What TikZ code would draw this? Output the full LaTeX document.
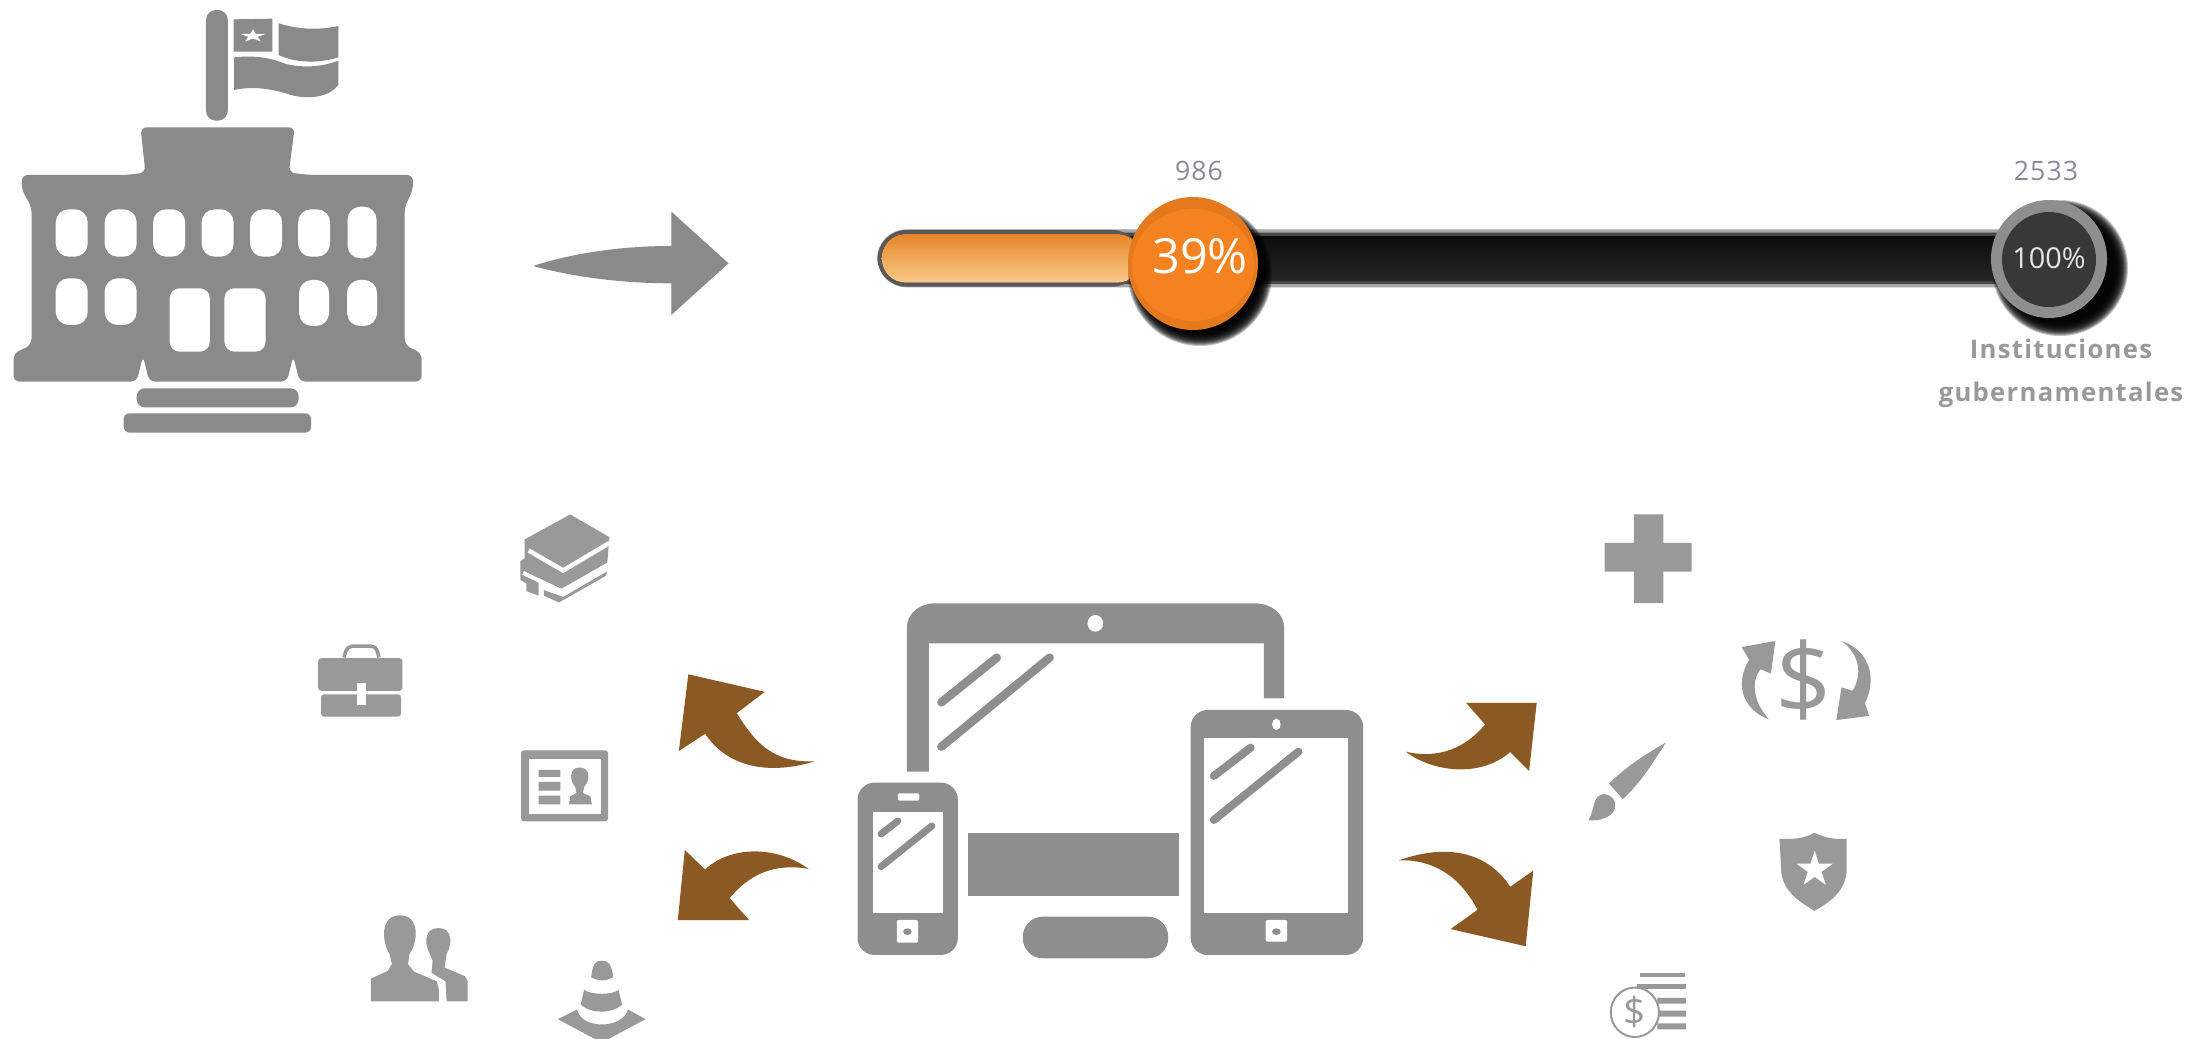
\documentclass[tikz,border=0pt]{standalone}
\usepackage{fontspec}
\setmainfont{Open Sans}
\newfontfamily\spaced[LetterSpace=5]{Open Sans}
\newfontfamily\digitsfont[LetterSpace=4]{Open Sans}
\definecolor{bld}{HTML}{8A8A8A}
\definecolor{dev}{HTML}{8E8E8E}
\definecolor{ico}{HTML}{999999}
\definecolor{brn}{HTML}{8B5A24}
\definecolor{org}{HTML}{F58220}
\definecolor{orgd}{HTML}{E5791E}
\definecolor{numc}{HTML}{8A8A99}
\definecolor{orgtop}{RGB}{230,134,42}
\definecolor{orgbot}{RGB}{251,201,138}
\tikzset{
 z1/.style={xscale=.4847,yscale=.3333},
 z2/.style={shift={(850,140)},xscale=.8565,yscale=.3333},
 z3/.style={shift={(300,500)},xscale=.3508,yscale=.3438},
 z4/.style={shift={(830,590)},xscale=.3571,yscale=.3333},
 z5/.style={shift={(1380,500)},xscale=.3444,yscale=.3438},
 glint/.style={line cap=round,line width=0.085cm,draw=dev},
 lbl/.style={inner sep=0pt,align=center}
}
\newcommand{\fivestar}{(0,-1)--(.225,-.309)--(.951,-.309)--(.363,.118)--(.588,.809)--(0,.382)--(-.588,.809)--(-.363,.118)--(-.951,-.309)--(-.225,-.309)--cycle}
\begin{document}
\begin{tikzpicture}[x=0.01cm,y=-0.01cm]
\fill[white] (0,0) rectangle (2193,1039);
\useasboundingbox (0,0) rectangle (2193,1039);
% ---------- building
\begin{scope}[z1]
 \fill[bld,rounded corners=0.1cm] (425,30) rectangle (470,362);
 \fill[bld] (482,58)--(562,56)--(562,155)--(482,155)--cycle;
 \fill[white,shift={(522,108)},xscale=27,yscale=20] \fivestar;
 \fill[bld] (575,70) .. controls (620,90) and (660,90) .. (698,78) -- (698,172) .. controls (660,190) and (610,190) .. (575,165) -- cycle;
 \fill[bld] (483,172) .. controls (530,165) and (560,175) .. (590,192) .. controls (630,205) and (665,200) .. (698,182) -- (698,255) .. controls (680,290) and (640,300) .. (600,285) .. controls (560,265) and (520,258) .. (483,270) -- cycle;
 \fill[bld,rounded corners=0.06cm] (300,518)--(290,382)--(608,382)--(596,518)--(640,525)--(852,525)--(852,570)--(835,620)--(835,1035)--(870,1060)--(870,1145)--(618,1145)--(605,1068)--(592,1145)--(308,1145)--(295,1068)--(282,1145)--(28,1145)--(28,1060)--(65,1035)--(65,620)--(45,570)--(45,525)--(260,525)--cycle;
 \foreach \c in {148,249,349,449,549,648}
  \fill[white,rounded corners=0.13cm] (\c-33,628) rectangle (\c+33,770);
 \fill[white,rounded corners=0.13cm] (717,620) rectangle (777,775);
 \foreach \c in {148,249}
  \fill[white,rounded corners=0.13cm] (\c-33,835) rectangle (\c+33,975);
 \foreach \c in {648,747}
  \fill[white,rounded corners=0.13cm] (\c-31,840) rectangle (\c+31,978);
 \fill[white,rounded corners=0.1cm] (350,865) rectangle (433,1055);
 \fill[white,rounded corners=0.1cm] (463,865) rectangle (548,1055);
 \fill[bld,rounded corners=0.08cm] (282,1165) rectangle (616,1222);
 \fill[bld,rounded corners=0.06cm] (255,1240) rectangle (642,1298);
 % grey arrow
 \fill[bld] (1100,798) .. controls (1180,760) and (1280,738) .. (1385,738) -- (1385,635) -- (1503,790) -- (1385,945) -- (1385,850) .. controls (1280,850) and (1180,830) .. cycle;
\end{scope}
% ---------- progress bar
\begin{scope}[z2]
 \fill[black!35,rounded corners=0.29cm] (32,268) rectangle (1400,442);
 \fill[black!72,rounded corners=0.26cm] (34,278) rectangle (1400,432);
 \fill[top color=black!95,bottom color=black!85] (60,290) rectangle (1400,422);
 \fill[black!65,rounded corners=0.29cm] (32,270) rectangle (340,440);
 \fill[top color=orgtop,bottom color=orgbot,rounded corners=0.24cm] (37,282) rectangle (340,428);
\end{scope}
\foreach \r in {72,71,...,60}
 \fill[black,opacity=.24] (1200,274) circle (\r);
\fill[orgd] (1193,263.5) ellipse [x radius=65,y radius=66.5];
\fill[org] (1193,265) ellipse [x radius=61,y radius=56];
\foreach \r in {68,67,...,56}
 \fill[black,opacity=.24] (2060,268) circle (\r);
\fill[dev] (2049,259) ellipse [x radius=58,y radius=59];
\fill[black!78] (2049,259.5) ellipse [x radius=47,y radius=47.5];
\node[lbl,text=white,font=\fontsize{13.8}{15}\selectfont] (pct39) at (1200,256) {39\%};
\node[lbl,text=white!90!black,font=\fontsize{8.2}{10}\selectfont] (pct100) at (2049,258) {100\%};
\node[lbl,text=numc,font=\digitsfont\fontsize{7.6}{9}\selectfont] (n986) at (1199,171) {986};
\node[lbl,text=numc,font=\digitsfont\fontsize{7.6}{9}\selectfont] (n2533) at (2046,171) {2533};
\node[lbl,text=ico,font=\spaced\bfseries\fontsize{7.3}{12.2}\selectfont] (inst) at (2061,373) {Instituciones\\gubernamentales};
% ---------- left icons
\begin{scope}[z3]
 % books
 \fill[ico] (640,115)--(770,42)--(882,108)--(876,182)--(745,258)--(636,208)--(628,178)--(640,170)--cycle;
 \fill[ico] (628,178)--(628,232)--(645,243)--(645,265)--(680,278)--(680,235)--(640,205)--cycle;
 \draw[white,line width=0.045cm] (652,147)--(750,205)--(882,125);
 \draw[white,line width=0.04cm] (636,212)--(750,268)--(878,195);
 \fill[ico] (695,262)--(750,282)--(875,208)--(873,220)--(738,298)--(695,278)--cycle;
 % briefcase
 \draw[ico,line width=0.035cm,rounded corners=0.05cm] (125,458)--(135,425)--(217,425)--(225,458);
 \fill[ico,rounded corners=0.03cm] (52,555)--(52,460)--(292,460)--(292,555)--cycle;
 \fill[ico,rounded corners=0.03cm] (60,565)--(60,630)--(288,630)--(288,565)--cycle;
 \fill[white] (163,532) rectangle (187,595);
 % id card
 \fill[ico,rounded corners=0.03cm] (630,728) rectangle (878,935);
 \fill[white] (652,752) rectangle (858,912);
 \fill[ico] (680,785) rectangle (742,805) (680,820) rectangle (742,845) (680,860) rectangle (742,885);
 \fill[ico] (767,885)--(770,862)--(788,852)--(785,835) .. controls (765,810) and (770,778) .. (797,778) .. controls (825,778) and (830,810) .. (810,835)--(806,852)--(828,862)--(832,885)--cycle;
 % people
 \fill[ico] (202,1458)--(202,1392)--(250,1370)--(262,1350)--(255,1320) .. controls (235,1290) and (225,1208) .. (285,1208) .. controls (345,1208) and (335,1290) .. (312,1320)--(308,1350)--(325,1372)--(390,1400)--(396,1425)--(396,1458)--cycle;
 \fill[ico] (418,1458)--(415,1400)--(375,1375)--(378,1340)--(370,1320) .. controls (350,1280) and (360,1245) .. (395,1245) .. controls (435,1245) and (435,1290) .. (418,1320)--(412,1360)--(470,1385)--(478,1400)--(478,1458)--cycle;
 % cone
 \fill[ico] (830,1388) .. controls (835,1350) and (840,1340) .. (860,1340) .. controls (880,1340) and (888,1350) .. (893,1388) .. controls (870,1400) and (850,1400) .. cycle;
 \fill[ico] (810,1425) .. controls (830,1440) and (890,1440) .. (908,1425) -- (918,1468) .. controls (890,1495) and (830,1495) .. (800,1468) -- cycle;
 \fill[ico] (735,1510)--(790,1482) .. controls (800,1540) and (920,1540) .. (935,1482) -- (985,1510) -- (875,1570) -- (845,1570) -- cycle;
 % brown arrows
 \fill[brn] (1107,507)--(1325,558)--(1245,620) .. controls (1300,710) and (1350,765) .. (1468,760) .. controls (1340,800) and (1220,780) .. (1155,680) -- (1080,730) -- cycle;
 \fill[brn] (1097,1018)--(1155,1075) .. controls (1220,1010) and (1350,1000) .. (1450,1073) .. controls (1350,1055) and (1280,1090) .. (1225,1158) -- (1280,1222) -- (1077,1222) -- cycle;
\end{scope}
% ---------- devices
\begin{scope}[z4]
 \fill[dev] (215,545)--(215,115) .. controls (215,70) and (250,40) .. (295,40) -- (1190,40) .. controls (1235,40) and (1272,70) .. (1272,115) -- (1272,325)--(1215,325)--(1215,160)--(277,160)--(277,545)--cycle;
 \fill[white] (743,100) ellipse [x radius=22,y radius=25];
 \draw[glint] (312,337)--(467,203);
 \draw[glint] (312,470)--(615,203);
 \fill[dev,rounded corners=0.17cm] (77,578) rectangle (358,1095);
 \fill[white] (120,665) rectangle (317,968);
 \fill[white,rounded corners=0.02cm] (190,610) rectangle (250,632);
 \fill[white,rounded corners=0.02cm] (187,990) rectangle (247,1058);
 \fill[dev] (217,1025) ellipse [x radius=12,y radius=10];
 \draw[glint,line width=0.07cm] (143,732)--(190,693);
 \draw[glint,line width=0.07cm] (143,830)--(285,708);
 \fill[dev] (387,730) rectangle (977,918);
 \fill[dev,rounded corners=0.2cm] (540,980) rectangle (947,1105);
 \fill[dev,rounded corners=0.17cm] (1010,360) rectangle (1493,1095);
 \fill[white] (1048,445) rectangle (1450,968);
 \fill[white] (1250,403) ellipse [x radius=12,y radius=17];
 \fill[white,rounded corners=0.02cm] (1220,990) rectangle (1280,1055);
 \fill[dev] (1250,1025) ellipse [x radius=12,y radius=10];
 \draw[glint,line width=0.08cm] (1075,558)--(1178,473);
 \draw[glint,line width=0.08cm] (1075,690)--(1312,485);
\end{scope}
% ---------- right icons
\begin{scope}[z5]
 \fill[brn] (455,590)--(250,590)--(305,653) .. controls (250,720) and (170,755) .. (75,732) .. controls (150,790) and (290,810) .. (378,733)--(433,788)--cycle;
 \fill[brn] (445,1078)--(378,1125) .. controls (310,1020) and (190,1000) .. (55,1048) .. controls (150,1045) and (230,1090) .. (283,1192)--(205,1248)--(423,1298)--cycle;
 \fill[ico] (737,42) rectangle (823,300) (652,125) rectangle (905,208);
 % money cycle arrows
 \fill[ico] (1148,410)--(1050,428)--(1072,465) .. controls (1030,530) and (1050,610) .. (1130,638) .. controls (1085,590) and (1075,530) .. (1105,492)--(1135,505)--cycle;
 \fill[ico] (1325,640)--(1420,628)--(1408,590) .. controls (1440,530) and (1430,440) .. (1340,410) .. controls (1395,450) and (1400,510) .. (1372,555) -- (1340,545) -- cycle;
 % brush
 \fill[ico] (830,705) .. controls (780,735) and (720,770) .. (665,825) -- (705,870) .. controls (750,830) and (790,770) .. cycle;
 \fill[ico] (605,932) .. controls (625,900) and (615,860) .. (650,855) .. controls (690,860) and (690,900) .. (670,915) .. controls (650,930) and (630,932) .. cycle;
 % shield
 \fill[ico] (1262,968) .. controls (1230,985) and (1195,988) .. (1160,985) -- (1165,1080) .. controls (1170,1140) and (1220,1170) .. (1262,1195) .. controls (1305,1170) and (1350,1140) .. (1355,1080) -- (1355,985) .. controls (1330,988) and (1295,985) .. cycle;
 \fill[white,shift={(1262,1075)},xscale=55,yscale=55] \fivestar;
 % coins
 \fill[ico] (755,1375) rectangle (885,1388);
 \fill[ico] (745,1408) rectangle (888,1422);
 \fill[ico] (805,1448) rectangle (888,1465) (805,1485) rectangle (888,1503) (805,1522) rectangle (888,1540);
 \draw[ico,fill=white,line width=0.02cm] (740,1490) ellipse [x radius=70,y radius=72];
\end{scope}
\node[lbl,text=ico,font=\fontsize{28}{30}\selectfont] (dollar) at (1804,680) {\$};
\node[lbl,text=ico,font=\fontsize{11}{12}\selectfont] (coin) at (1635,1012) {\$};
\end{tikzpicture}
\end{document}
